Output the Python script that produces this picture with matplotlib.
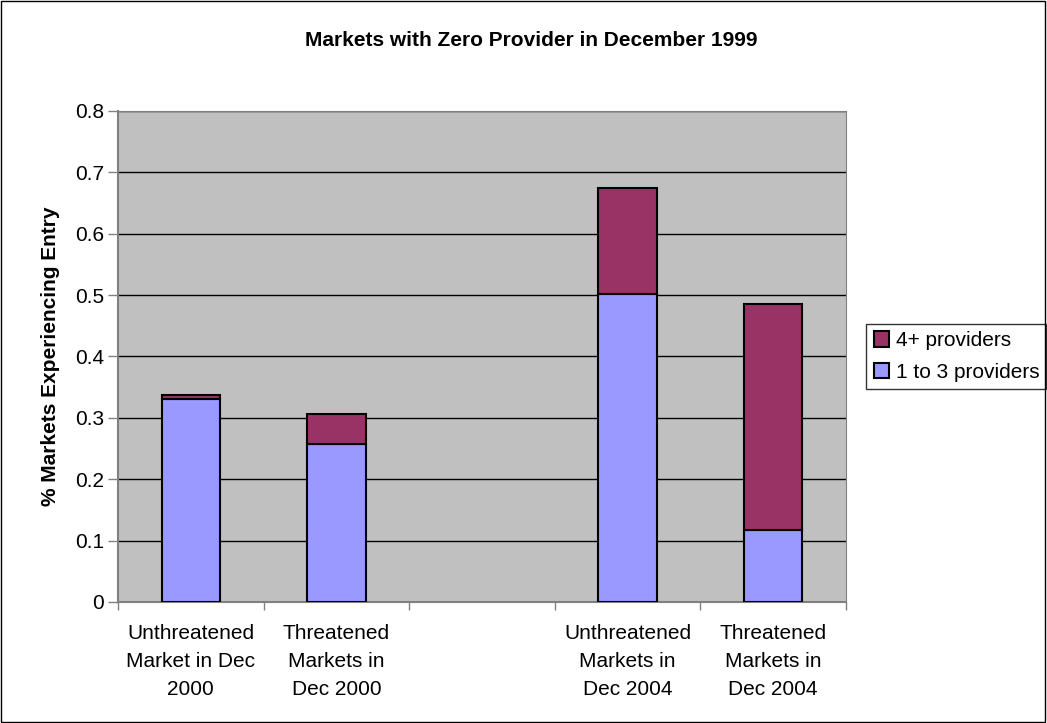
import numpy as np
import matplotlib.pyplot as plt
from matplotlib.patches import Rectangle

plt.rcParams['font.family'] = ['Liberation Sans', 'DejaVu Sans']

categories = ["Unthreatened\nMarket in Dec\n2000", "Threatened\nMarkets in\nDec 2000", "",
              "Unthreatened\nMarkets in\nDec 2004", "Threatened\nMarkets in\nDec 2004"]
one_to_three = [0.330, 0.257, 0.0, 0.502, 0.117]
four_plus = [0.007, 0.049, 0.0, 0.173, 0.369]

fig = plt.figure(figsize=(10.47, 7.23), dpi=100)
fig.patches.append(Rectangle((0.001, 0.001), 0.997, 0.997, transform=fig.transFigure,
                             fill=False, edgecolor="black", linewidth=1))
ax = fig.add_axes([0.1127, 0.1674, 0.6953, 0.6791])
ax.set_facecolor("#C0C0C0")

x = np.arange(len(categories))
mask = np.array(one_to_three) + np.array(four_plus) > 0
b1 = ax.bar(x[mask], np.array(one_to_three)[mask], width=0.4, color="#9999FF",
            edgecolor="black", linewidth=1.5, label="1 to 3 providers", zorder=3)
b2 = ax.bar(x[mask], np.array(four_plus)[mask], width=0.4, bottom=np.array(one_to_three)[mask],
            color="#993366", edgecolor="black", linewidth=1.5, label="4+ providers", zorder=3)

ax.set_xlim(-0.5, len(categories) - 0.5)
ax.set_ylim(0, 0.8)
ax.set_yticks(np.arange(0, 0.81, 0.1))
ax.set_yticklabels(["0"] + [f"{v:.1f}" for v in np.arange(0.1, 0.81, 0.1)])
ax.yaxis.grid(True, color="black", linewidth=1, zorder=1)
ax.set_axisbelow(True)

ax.set_xticks(x)
ax.set_xticklabels(categories, fontsize=15, linespacing=1.6)
ax.set_xticks(np.arange(-0.5, len(categories), 1), minor=True)
ax.tick_params(axis="x", which="major", length=0, pad=16)
ax.tick_params(axis="x", which="minor", length=6, width=1, color="#808080")
ax.tick_params(axis="y", length=7, width=1, color="#808080", labelsize=15, pad=3)

for s in ["top", "right"]:
    ax.spines[s].set_color("#808080")
for s in ["left", "bottom"]:
    ax.spines[s].set_color("#808080")
    ax.spines[s].set_linewidth(1.5)

ax.set_ylabel("% Markets Experiencing Entry", fontsize=15, fontweight="bold", labelpad=11)
fig.text(0.507, 0.944, "Markets with Zero Provider in December 1999", ha="center", va="center",
         fontsize=15, fontweight="bold")

leg = ax.legend(handles=[b2, b1], loc="center left", bbox_to_anchor=(1.028, 0.5),
                frameon=True, fancybox=False, edgecolor="black", fontsize=15,
                handlelength=0.75, handleheight=0.75, handletextpad=0.3, borderpad=0.35,
                labelspacing=0.6, borderaxespad=0)
leg.get_frame().set_linewidth(1)

fig.savefig("out.png", dpi=100)
